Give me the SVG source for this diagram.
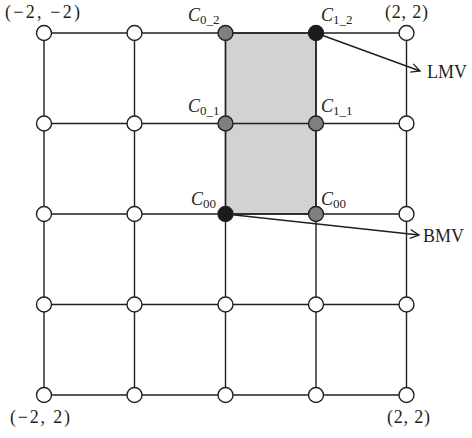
<svg xmlns="http://www.w3.org/2000/svg" width="472" height="438" viewBox="0 0 472 438">
<style>
.ln{stroke:#231f20;stroke-width:1.4;fill:none}
.nd{stroke:#231f20;stroke-width:1.4;fill:#fff}
.gr{fill:#7f7f7f}
.bk{fill:#1c1a1b}
.t{font-family:"Liberation Serif",serif;font-size:18px;fill:#231f20}
.c{font-style:italic}
.s{font-size:13px;font-style:normal}
</style>
<defs>
<marker id="ah" viewBox="0 0 10 10" refX="9" refY="5" markerWidth="11" markerHeight="11" markerUnits="userSpaceOnUse" orient="auto">
<path d="M1,1 L9,5 L1,9" stroke="#231f20" stroke-width="1.2" fill="none"/>
</marker>
</defs>
<rect x="225.5" y="33" width="90.5" height="181" fill="#d1d2d3" stroke="#231f20" stroke-width="1.4"/>
<g id="connectors">
<path class="ln" d="M44,33H406.5M44,123.5H406.5M44,214H406.5M44,304.5H406.5M44,395H406.5"/>
<path class="ln" d="M44,33V395M134.5,33V395M225.5,33V395M316,33V395M406.5,33V395"/>
<line class="ln" x1="316" y1="33" x2="420" y2="71" marker-end="url(#ah)"/>
<line class="ln" x1="225.5" y1="214" x2="419" y2="235" marker-end="url(#ah)"/>
</g>
<g id="nodes">
<g id="r0"><circle class="nd" cx="44" cy="33" r="7.5"/><circle class="nd" cx="134.5" cy="33" r="7.5"/><circle class="nd gr" cx="225.5" cy="33" r="7.5"/><circle class="nd bk" cx="316" cy="33" r="7.5"/><circle class="nd" cx="406.5" cy="33" r="7.5"/></g>
<g id="r1"><circle class="nd" cx="44" cy="123.5" r="7.5"/><circle class="nd" cx="134.5" cy="123.5" r="7.5"/><circle class="nd gr" cx="225.5" cy="123.5" r="7.5"/><circle class="nd gr" cx="316" cy="123.5" r="7.5"/><circle class="nd" cx="406.5" cy="123.5" r="7.5"/></g>
<g id="r2"><circle class="nd" cx="44" cy="214" r="7.5"/><circle class="nd" cx="134.5" cy="214" r="7.5"/><circle class="nd bk" cx="225.5" cy="214" r="7.5"/><circle class="nd gr" cx="316" cy="214" r="7.5"/><circle class="nd" cx="406.5" cy="214" r="7.5"/></g>
<g id="r3"><circle class="nd" cx="44" cy="304.5" r="7.5"/><circle class="nd" cx="134.5" cy="304.5" r="7.5"/><circle class="nd" cx="225.5" cy="304.5" r="7.5"/><circle class="nd" cx="316" cy="304.5" r="7.5"/><circle class="nd" cx="406.5" cy="304.5" r="7.5"/></g>
<g id="r4"><circle class="nd" cx="44" cy="395" r="7.5"/><circle class="nd" cx="134.5" cy="395" r="7.5"/><circle class="nd" cx="225.5" cy="395" r="7.5"/><circle class="nd" cx="316" cy="395" r="7.5"/><circle class="nd" cx="406.5" cy="395" r="7.5"/></g>
</g>
<g id="labels">
<text class="t" x="5" y="18" textLength="75">(−2, −2)</text>
<text class="t" x="385" y="18" textLength="43">(2, 2)</text>
<text class="t" x="10" y="423" textLength="60">(−2, 2)</text>
<text class="t" x="387" y="423" textLength="43">(2, 2)</text>
<text class="t" x="427" y="78">LMV</text>
<text class="t" x="423" y="242">BMV</text>
<text class="t c" x="188" y="21">C<tspan class="s" dy="3">0_2</tspan></text>
<text class="t c" x="321" y="21">C<tspan class="s" dy="3">1_2</tspan></text>
<text class="t c" x="188" y="112">C<tspan class="s" dy="3">0_1</tspan></text>
<text class="t c" x="321" y="112">C<tspan class="s" dy="3">1_1</tspan></text>
<text class="t c" x="191" y="205">C<tspan class="s" dy="3">00</tspan></text>
<text class="t c" x="321" y="205">C<tspan class="s" dy="3">00</tspan></text>
</g>
</svg>
